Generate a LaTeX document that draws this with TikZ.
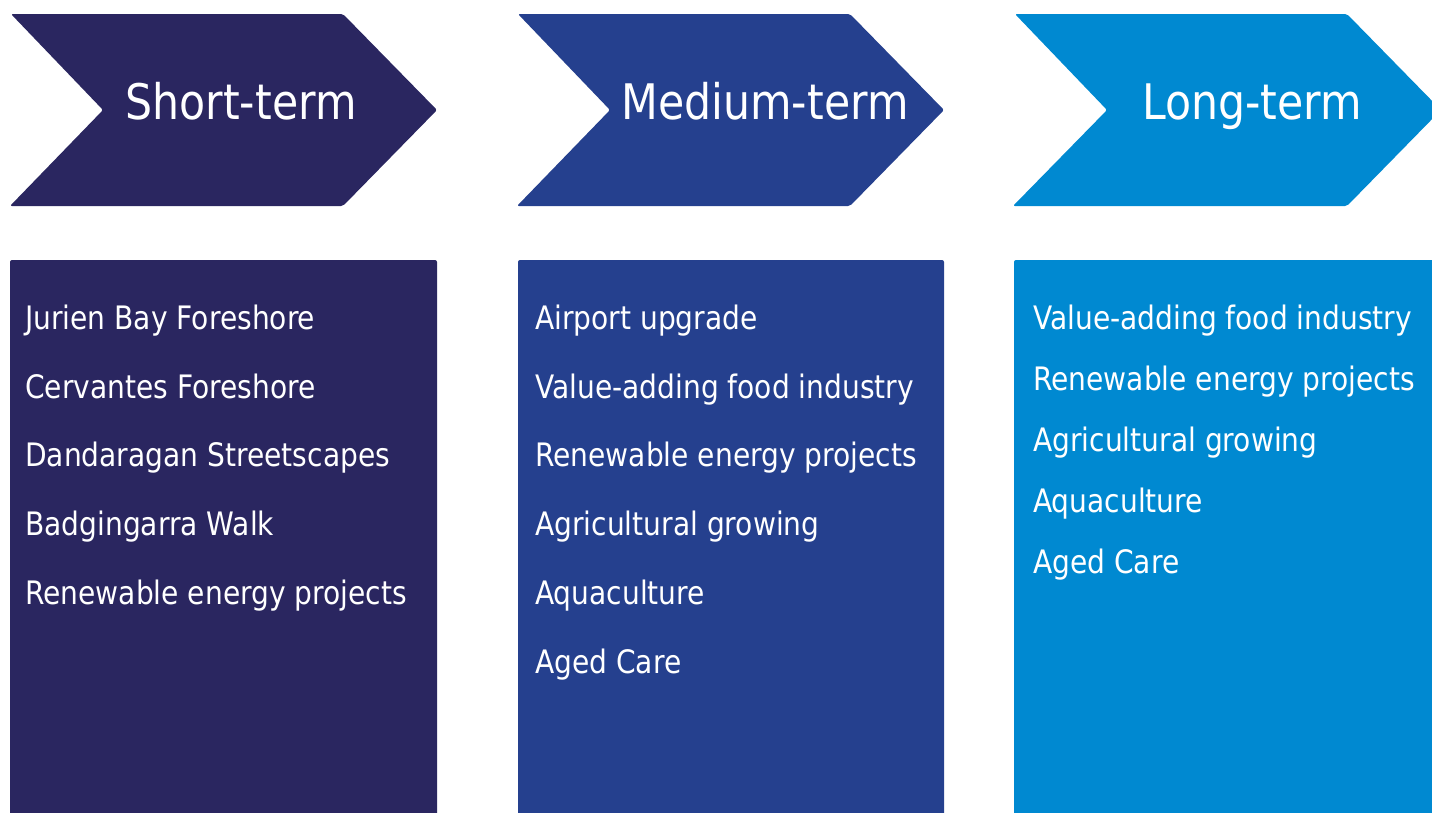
\documentclass[tikz,border=0pt]{standalone}
\usepackage{fontspec}
\setmainfont{DejaVu Sans}[FakeStretch=0.87]
\definecolor{cdark}{HTML}{2A2660}
\definecolor{cmed}{HTML}{25408E}
\definecolor{clight}{HTML}{0089D1}
\begin{document}
\begin{tikzpicture}[x=1pt,y=-1pt,
  chev/.style={rounded corners=2pt},
  panel/.style={rounded corners=2pt},
  title/.style={text=white,font=\fontsize{49}{52}\selectfont,inner sep=0pt,anchor=base},
  item/.style={text=white,font=\fontsize{32.3}{36}\selectfont,inner sep=0pt,anchor=base west}]
\useasboundingbox (0,0) rectangle (1432,812);
\begin{scope}
\clip (0,0) rectangle (1432,812);
% chevrons
\fill[cdark,chev] (11,14) -- (343,14) -- (437,110) -- (343,206) -- (10,206) -- (103,110) -- cycle;
\fill[cmed,chev] (518,14) -- (850,14) -- (944,110) -- (850,206) -- (517,206) -- (610,110) -- cycle;
\fill[clight,chev] (1015,14) -- (1347,14) -- (1441,110) -- (1347,206) -- (1013,206) -- (1107,110) -- cycle;
% panels
\fill[cdark,panel] (10,260) rectangle (437,830);
\fill[cmed,panel] (518,260) rectangle (944,830);
\fill[clight,panel] (1014,260) rectangle (1450,830);
\end{scope}
% titles
\node[title] (t1) at (241,119) {Short-term};
\node[title] (t2) at (765,119) {Medium-term};
\node[title] (t3) at (1252,119) {Long-term};
% short-term items
\node[item] (s1) at (25,329) {Jurien Bay Foreshore};
\node[item] (s2) at (25,398) {Cervantes Foreshore};
\node[item] (s3) at (25,466) {Dandaragan Streetscapes};
\node[item] (s4) at (25,535) {Badgingarra Walk};
\node[item] (s5) at (25,604) {Renewable energy projects};
% medium-term items
\node[item] (m1) at (535,329) {Airport upgrade};
\node[item] (m2) at (535,398) {Value-adding food industry};
\node[item] (m3) at (535,466) {Renewable energy projects};
\node[item] (m4) at (535,535) {Agricultural growing};
\node[item] (m5) at (535,604) {Aquaculture};
\node[item] (m6) at (535,673) {Aged Care};
% long-term items
\node[item] (l1) at (1033,329) {Value-adding food industry};
\node[item] (l2) at (1033,390) {Renewable energy projects};
\node[item] (l3) at (1033,451) {Agricultural growing};
\node[item] (l4) at (1033,512) {Aquaculture};
\node[item] (l5) at (1033,573) {Aged Care};
\end{tikzpicture}
\end{document}
